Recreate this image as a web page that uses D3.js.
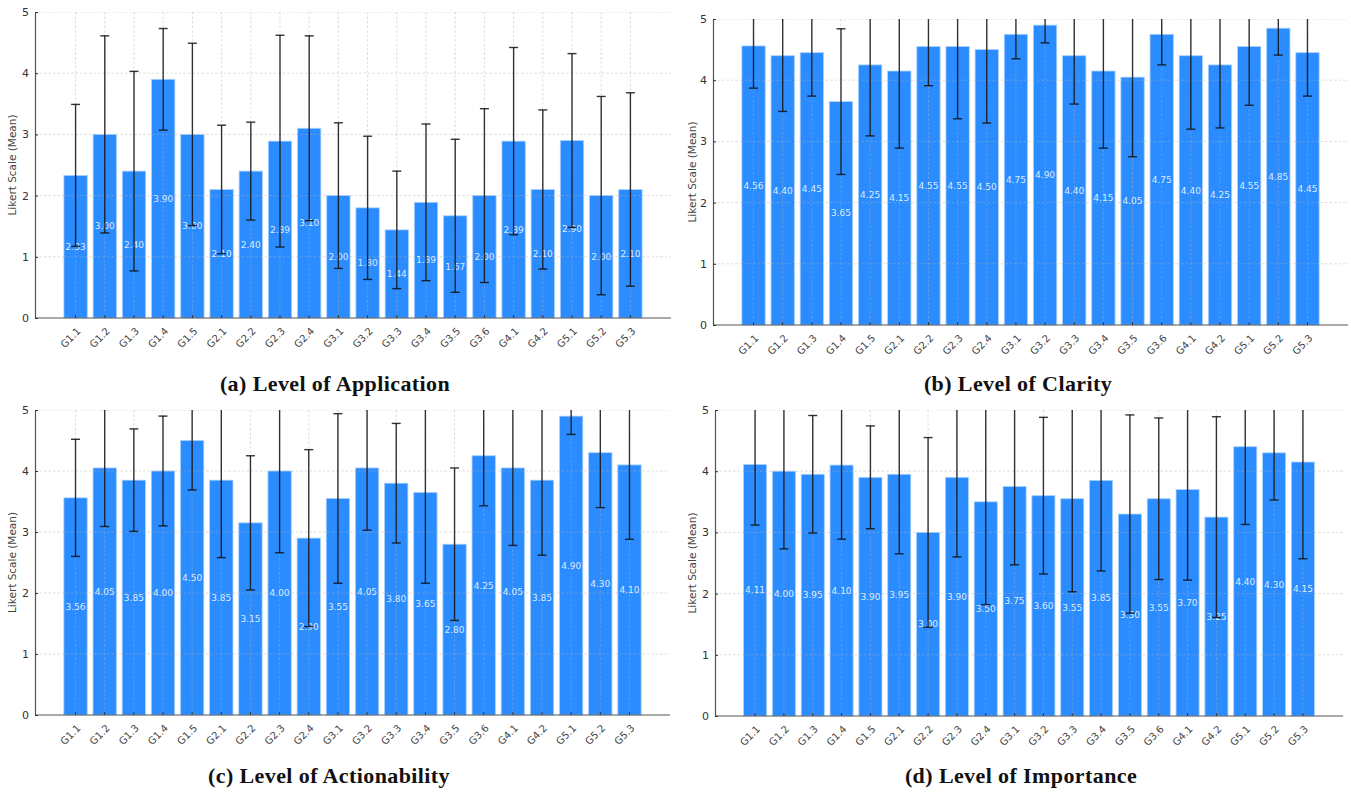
<!DOCTYPE html>
<html>
<head>
<meta charset="utf-8">
<script src="https://cdn.jsdelivr.net/npm/d3@7"></script>
<style>
  html, body { margin: 0; padding: 0; background: #fff; }
  svg { display: block; }
  .tick text { font-family: "DejaVu Sans", sans-serif; }
</style>
</head>
<body>
<svg id="chart" width="1351" height="792"></svg>
<script>
const categories = ["G1.1","G1.2","G1.3","G1.4","G1.5","G2.1","G2.2","G2.3","G2.4",
  "G3.1","G3.2","G3.3","G3.4","G3.5","G3.6","G4.1","G4.2","G5.1","G5.2","G5.3"];

const applicationMean = [2.33,3.00,2.40,3.90,3.00,2.10,2.40,2.89,3.10,2.00,1.80,1.44,1.89,1.67,2.00,2.89,2.10,2.90,2.00,2.10];
const applicationStd  = [1.16,1.61,1.63,0.83,1.49,1.05,0.80,1.73,1.51,1.19,1.17,0.96,1.28,1.25,1.42,1.53,1.30,1.42,1.62,1.58];

const clarityMean = [4.56,4.40,4.45,3.65,4.25,4.15,4.55,4.55,4.50,4.75,4.90,4.40,4.15,4.05,4.75,4.40,4.25,4.55,4.85,4.45];
const clarityStd  = [0.69,0.91,0.71,1.19,1.16,1.26,0.64,1.18,1.20,0.40,0.29,0.79,1.26,1.30,0.50,1.20,1.03,0.96,0.44,0.71];

const actionabilityMean = [3.56,4.05,3.85,4.00,4.50,3.85,3.15,4.00,2.90,3.55,4.05,3.80,3.65,2.80,4.25,4.05,3.85,4.90,4.30,4.10];
const actionabilityStd  = [0.96,0.96,0.84,0.90,0.81,1.27,1.10,1.34,1.45,1.39,1.02,0.98,1.49,1.25,0.82,1.27,1.23,0.30,0.90,1.22];

const importanceMean = [4.11,4.00,3.95,4.10,3.90,3.95,3.00,3.90,3.50,3.75,3.60,3.55,3.85,3.30,3.55,3.70,3.25,4.40,4.30,4.15];
const importanceStd  = [0.99,1.27,0.96,1.21,0.84,1.30,1.55,1.30,1.68,1.28,1.28,1.52,1.48,1.62,1.32,1.48,1.64,1.27,0.77,1.58];

const yTicks = [0,1,2,3,4,5];
const yLabel = "Likert Scale (Mean)";
const captions = ["(a) Level of Application","(b) Level of Clarity","(c) Level of Actionability","(d) Level of Importance"];

const panels = [
  { mean: applicationMean,   std: applicationStd,   x0: 35,  x1: 671,  y0: 12,  y1: 318, ylx: 12,  cx: 335,  cy: 391 },
  { mean: clarityMean,       std: clarityStd,       x0: 713, x1: 1348, y0: 19,  y1: 325, ylx: 692, cx: 1018, cy: 391 },
  { mean: actionabilityMean, std: actionabilityStd, x0: 35,  x1: 670,  y0: 410, y1: 715, ylx: 12,  cx: 329,  cy: 783 },
  { mean: importanceMean,    std: importanceStd,    x0: 715, x1: 1343, y0: 410, y1: 716, ylx: 692, cx: 1021, cy: 783 }
];

const svg = d3.select("#chart");
const barFill = "#2a8cff";
const barEdge = "#a9d1ff";

panels.forEach((p, pi) => {
  const data = categories.map((c, i) => ({ c, m: p.mean[i], s: p.std[i] }));
  const x = d3.scaleBand().domain(categories).range([p.x0, p.x1]).paddingInner(0.2).paddingOuter(0.99);
  const y = d3.scaleLinear().domain([0, 5]).range([p.y1, p.y0]);
  const g = svg.append("g");

  const clipId = "clip" + pi;
  svg.append("defs").append("clipPath").attr("id", clipId)
    .append("rect").attr("x", p.x0).attr("y", p.y0).attr("width", p.x1 - p.x0).attr("height", p.y1 - p.y0);

  // bars
  g.append("g").selectAll("rect").data(data).join("rect")
    .attr("x", d => x(d.c)).attr("width", x.bandwidth())
    .attr("y", d => y(d.m)).attr("height", d => y(0) - y(d.m))
    .attr("fill", barFill).attr("stroke", barEdge).attr("stroke-width", 0.8);

  // grid (on top, faint)
  const grid = g.append("g").attr("clip-path", `url(#${clipId})`);
  grid.selectAll("line.h").data(yTicks.slice(1)).join("line").attr("class","h")
    .attr("x1", p.x0).attr("x2", p.x1).attr("y1", d => y(d)).attr("y2", d => y(d))
    .attr("stroke", "#b0b0b0").attr("stroke-opacity", 0.55).attr("stroke-width", 0.8).attr("stroke-dasharray", "2.5,2");
  grid.selectAll("line.v").data(categories).join("line").attr("class","v")
    .attr("x1", d => x(d) + x.bandwidth()/2).attr("x2", d => x(d) + x.bandwidth()/2)
    .attr("y1", p.y0).attr("y2", p.y1)
    .attr("stroke", "#b0b0b0").attr("stroke-opacity", 0.55).attr("stroke-width", 0.8).attr("stroke-dasharray", "2.5,2");

  // value labels at half height
  g.append("g").selectAll("text").data(data).join("text")
    .attr("x", d => x(d.c) + x.bandwidth()/2)
    .attr("y", d => y(d.m / 2))
    .attr("dy", "0.35em")
    .attr("text-anchor", "middle")
    .attr("font-family", "DejaVu Sans, sans-serif")
    .attr("font-size", 9)
    .attr("fill", "#ffffff").attr("fill-opacity", 0.85)
    .text(d => d.m.toFixed(2));

  // error bars
  const eb = g.append("g").attr("clip-path", `url(#${clipId})`)
    .attr("stroke", "#111").attr("stroke-opacity", 0.85);
  eb.selectAll("line.v").data(data).join("line").attr("class","v")
    .attr("x1", d => x(d.c) + x.bandwidth()/2).attr("x2", d => x(d.c) + x.bandwidth()/2)
    .attr("y1", d => y(d.m - d.s)).attr("y2", d => y(d.m + d.s))
    .attr("stroke-width", 1.4);
  ["lo","hi"].forEach(k => {
    eb.selectAll("line.c" + k).data(data).join("line").attr("class","c" + k)
      .attr("x1", d => x(d.c) + x.bandwidth()/2 - 4.5).attr("x2", d => x(d.c) + x.bandwidth()/2 + 4.5)
      .attr("y1", d => y(k === "lo" ? d.m - d.s : d.m + d.s))
      .attr("y2", d => y(k === "lo" ? d.m - d.s : d.m + d.s))
      .attr("stroke-width", 1.4);
  });

  // axes
  const ax = g.append("g").attr("transform", `translate(0,${p.y1})`)
    .call(d3.axisBottom(x).tickSizeInner(-3).tickSizeOuter(0).tickPadding(8));
  ax.select(".domain").attr("stroke", "#555").attr("stroke-width", 1.2);
  ax.selectAll(".tick line").attr("stroke", "#333");
  ax.selectAll(".tick text")
    .attr("font-size", 10).attr("fill", "#444")
    .attr("text-anchor", "end")
    .attr("dy", "0.3em")
    .attr("transform", "translate(-2,6) rotate(-45)");
  ax.select(".domain").attr("d", `M${p.x0},0H${p.x1}`);

  const ay = g.append("g").attr("transform", `translate(${p.x0},0)`)
    .call(d3.axisLeft(y).tickValues(yTicks).tickFormat(d3.format("d")).tickSizeInner(-3).tickSizeOuter(0).tickPadding(6));
  ay.select(".domain").attr("stroke", "#555").attr("stroke-width", 1.2);
  ay.selectAll(".tick line").attr("stroke", "#333");
  ay.selectAll(".tick text").attr("font-size", 11).attr("fill", "#333");

  // y label
  g.append("text")
    .attr("transform", `translate(${p.ylx},${(p.y0 + p.y1)/2}) rotate(-90)`)
    .attr("text-anchor", "middle").attr("dy", "0.35em")
    .attr("font-family", "DejaVu Sans, sans-serif").attr("font-size", 10.5).attr("fill", "#444")
    .text(yLabel);

  // caption
  svg.append("text")
    .attr("x", p.cx).attr("y", p.cy)
    .attr("text-anchor", "middle")
    .attr("font-family", "Liberation Serif, serif").attr("font-weight", "bold").attr("font-size", 22)
    .attr("letter-spacing", 0.4)
    .attr("fill", "#111")
    .text(captions[pi]);
});
</script>
</body>
</html>
